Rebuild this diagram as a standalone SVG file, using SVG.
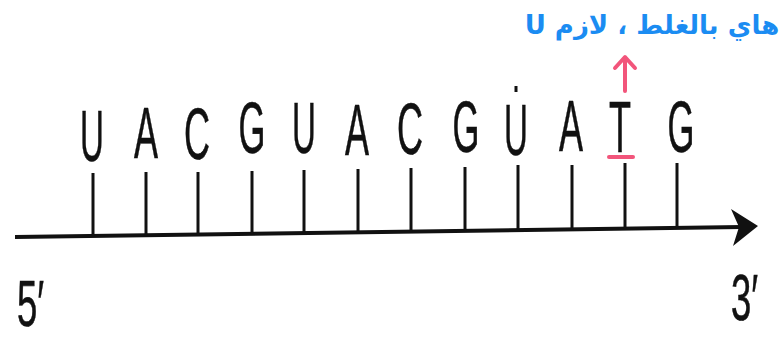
<svg xmlns="http://www.w3.org/2000/svg" width="784" height="340" viewBox="0 0 784 340">
<style>
.b{font-family:"Liberation Sans",Arial,sans-serif;font-size:72px;fill:#111;stroke:#111;stroke-width:0.6;text-anchor:middle}
.t{stroke:#111;stroke-width:3;stroke-linecap:butt}
.e{font-family:"Liberation Sans",Arial,sans-serif;font-size:64px;fill:#111;stroke:#111;stroke-width:0.6}
.note{font-family:"DejaVu Sans","Noto Sans",sans-serif;font-weight:bold;font-size:26px;fill:#1b8cf2}
.pk{stroke:#f2557b;stroke-width:4;stroke-linecap:round;stroke-linejoin:round;fill:none}
</style>
<rect width="784" height="340" fill="#fff"/>
<g id="connectors">
<line x1="15" y1="237" x2="742" y2="227" stroke="#111" stroke-width="4"/>
<polygon points="758,226 731,209 739,227 733,246" fill="#111"/>
<line class="pk" x1="625" y1="91" x2="625" y2="58"/>
<polyline class="pk" points="615,68 625,57 635,68"/>
</g>
<g id="n1"><line class="t" x1="93" y1="173" x2="93" y2="236"/><text class="b" transform="translate(92,161) scale(0.46,1)">U</text></g>
<g id="n2"><line class="t" x1="146" y1="172" x2="146" y2="236"/><text class="b" transform="translate(146,158) scale(0.5,1)">A</text></g>
<g id="n3"><line class="t" x1="198" y1="172" x2="198" y2="235"/><text class="b" transform="translate(197,159) scale(0.5,1)">C</text></g>
<g id="n4"><line class="t" x1="252" y1="171" x2="252" y2="234"/><text class="b" transform="translate(252,153) scale(0.48,1)">G</text></g>
<g id="n5"><line class="t" x1="304" y1="170" x2="304" y2="233"/><text class="b" transform="translate(304,153) scale(0.46,1)">U</text></g>
<g id="n6"><line class="t" x1="358" y1="169" x2="358" y2="233"/><text class="b" transform="translate(357,155) scale(0.5,1)">A</text></g>
<g id="n7"><line class="t" x1="411" y1="168" x2="411" y2="232"/><text class="b" transform="translate(410,154) scale(0.5,1)">C</text></g>
<g id="n8"><line class="t" x1="465" y1="167" x2="465" y2="231"/><text class="b" transform="translate(466,152) scale(0.48,1)">G</text></g>
<g id="n9"><line class="t" x1="518" y1="165" x2="518" y2="230"/><line class="t" x1="516" y1="86" x2="516" y2="92" stroke-width="2"/><text class="b" transform="translate(516,155) scale(0.46,1)">U</text></g>
<g id="n10"><line class="t" x1="572" y1="165" x2="572" y2="230"/><text class="b" transform="translate(571,151) scale(0.5,1)">A</text></g>
<g id="n11"><line class="t" x1="625" y1="163" x2="625" y2="229"/><text class="b" transform="translate(620,152) scale(0.5,1)">T</text><line class="pk" x1="609" y1="157" x2="633" y2="157" stroke-width="3.5"/></g>
<g id="n12"><line class="t" x1="677" y1="163" x2="677" y2="228"/><text class="b" transform="translate(681,152) scale(0.48,1)">G</text></g>
<g id="end5"><text class="e" transform="translate(17,326) scale(0.57,1)">5′</text></g>
<g id="end3"><text class="e" transform="translate(731,320) scale(0.57,1)">3′</text></g>
<g id="note"><text class="note" x="652" y="34" text-anchor="middle" direction="rtl">هاي بالغلط ، لازم U</text></g>
</svg>
